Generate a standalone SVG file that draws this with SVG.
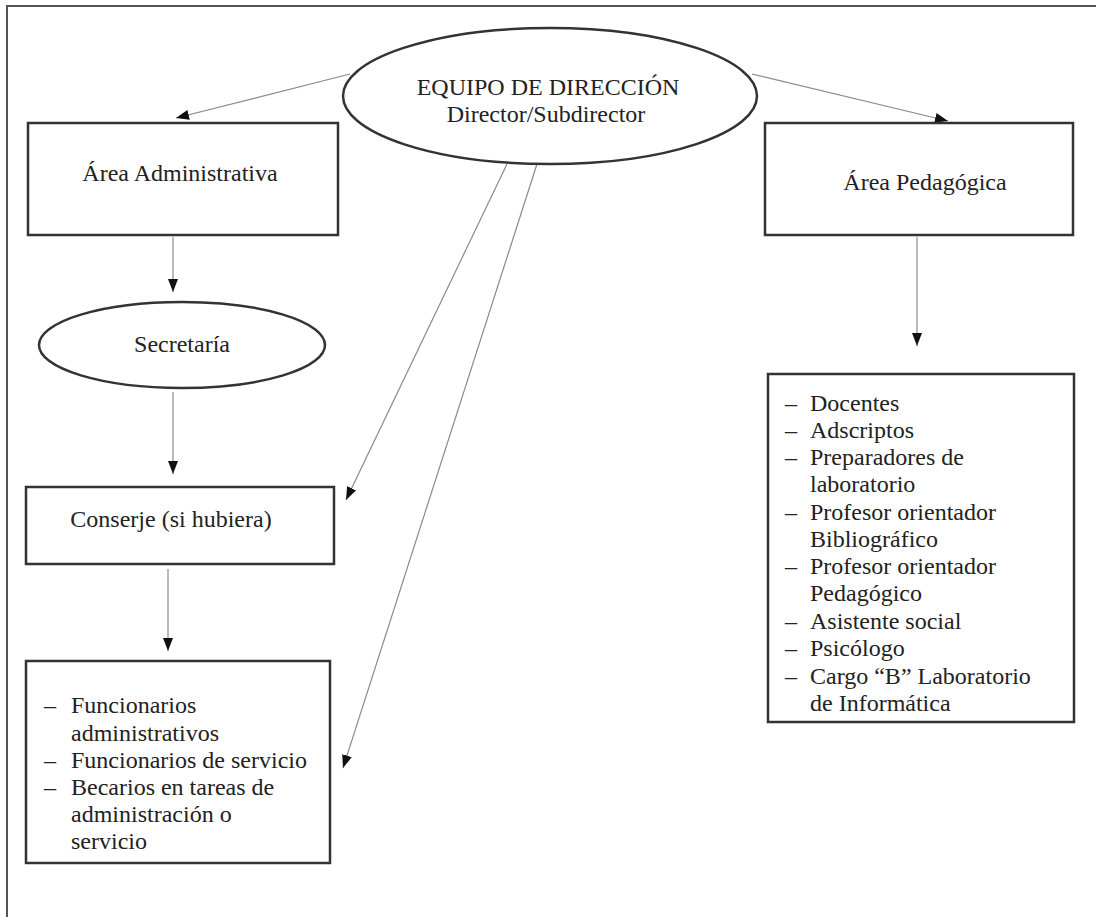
<svg xmlns="http://www.w3.org/2000/svg" width="1096" height="917" viewBox="0 0 1096 917">
<style>
text{font-family:"Liberation Serif","Times New Roman",serif;font-size:24px;fill:#222}
.c{text-anchor:middle}
.box{fill:#fff;stroke:#333;stroke-width:2.5}
.conn{stroke:#8a8a8a;stroke-width:1.2;fill:none;marker-end:url(#ah)}
.frame{stroke:#555;stroke-width:2;fill:none}
</style>
<defs>
<marker id="ah" markerUnits="userSpaceOnUse" markerWidth="14" markerHeight="10" refX="13" refY="5" orient="auto">
<path d="M0,0 L13,5 L0,10 Z" fill="#111"/>
</marker>
</defs>
<rect width="1096" height="917" fill="#fff"/>
<path class="frame" d="M7,917 L7,6 L1096,6"/>
<g id="connectors">
<line class="conn" x1="350" y1="74" x2="176" y2="118"/>
<line class="conn" x1="752" y1="74" x2="948" y2="121"/>
<line class="conn" x1="173" y1="237" x2="173" y2="292"/>
<line class="conn" x1="173" y1="392" x2="173" y2="474"/>
<line class="conn" x1="168" y1="569" x2="168" y2="651"/>
<line class="conn" x1="507" y1="164" x2="346" y2="500"/>
<line class="conn" x1="537" y1="164" x2="343" y2="768"/>
<line class="conn" x1="917" y1="237" x2="917" y2="346"/>
</g>
<g id="equipo">
<ellipse class="box" cx="550" cy="96" rx="207" ry="68"/>
<text class="c" x="548" y="95">EQUIPO DE DIRECCIÓN</text>
<text class="c" x="546" y="122">Director/Subdirector</text>
</g>
<g id="area-admin">
<rect class="box" x="28" y="123" width="310" height="112"/>
<text class="c" x="180" y="181">Área Administrativa</text>
</g>
<g id="area-ped">
<rect class="box" x="765" y="123" width="308" height="112"/>
<text class="c" x="925" y="190">Área Pedagógica</text>
</g>
<g id="secretaria">
<ellipse class="box" cx="182" cy="345" rx="143" ry="43"/>
<text class="c" x="182" y="352">Secretaría</text>
</g>
<g id="conserje">
<rect class="box" x="26" y="487" width="308" height="77"/>
<text class="c" x="171" y="527">Conserje (si hubiera)</text>
</g>
<g id="funcionarios">
<rect class="box" x="26" y="661" width="304" height="202"/>
<text x="44" y="713">–</text><text x="71" y="713">Funcionarios</text>
<text x="71" y="741">administrativos</text>
<text x="44" y="768">–</text><text x="71" y="768">Funcionarios de servicio</text>
<text x="44" y="795">–</text><text x="71" y="795">Becarios en tareas de</text>
<text x="71" y="822">administración o</text>
<text x="71" y="849">servicio</text>
</g>
<g id="personal-ped">
<rect class="box" x="768" y="374" width="306" height="348"/>
<text x="785" y="411">–</text><text x="810" y="411">Docentes</text>
<text x="785" y="438">–</text><text x="810" y="438">Adscriptos</text>
<text x="785" y="465">–</text><text x="810" y="465">Preparadores de</text>
<text x="810" y="492">laboratorio</text>
<text x="785" y="520">–</text><text x="810" y="520">Profesor orientador</text>
<text x="810" y="547">Bibliográfico</text>
<text x="785" y="574">–</text><text x="810" y="574">Profesor orientador</text>
<text x="810" y="601">Pedagógico</text>
<text x="785" y="629">–</text><text x="810" y="629">Asistente social</text>
<text x="785" y="656">–</text><text x="810" y="656">Psicólogo</text>
<text x="785" y="684">–</text><text x="810" y="684">Cargo “B” Laboratorio</text>
<text x="810" y="711">de Informática</text>
</g>
</svg>
